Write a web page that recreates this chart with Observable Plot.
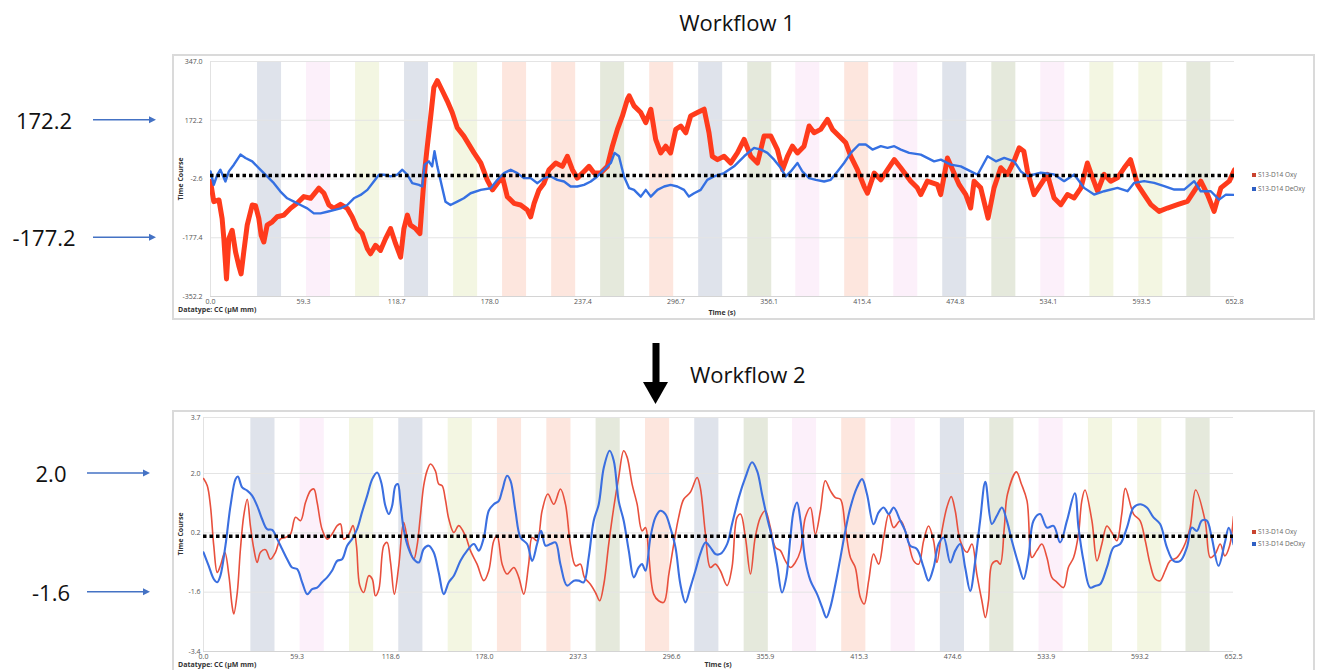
<!DOCTYPE html>
<html><head><meta charset="utf-8">
<script src="https://cdn.jsdelivr.net/npm/d3@7"></script>
<script src="https://cdn.jsdelivr.net/npm/@observablehq/plot@0.6"></script>
<style>
html,body{margin:0;padding:0;background:#fff;}
body{width:1320px;height:670px;position:relative;overflow:hidden;font-family:"Open Sans",sans-serif;}
.box{position:absolute;border:2px solid #dadada;box-sizing:border-box;}
.big{position:absolute;font-size:22px;color:#111;white-space:nowrap;line-height:1;}
.small{position:absolute;font-size:7px;color:#333;font-weight:bold;white-space:nowrap;line-height:1;}
.leg{position:absolute;font-size:6.5px;color:#666;white-space:nowrap;line-height:1;}
.sw{position:absolute;width:4px;height:4px;}
</style></head><body>
<script>
// ---------- data ----------
const seriesNames = ["S13-D14 Oxy", "S13-D14 DeOxy"];
const titles = ["Workflow 1", "Workflow 2"];
const datatypeLabel = "Datatype: CC (µM mm)";
const xLabel = "Time (s)";
const yLabel = "Time Course";

const xTicks1 = [0.0, 59.3, 118.7, 178.0, 237.4, 296.7, 356.1, 415.4, 474.8, 534.1, 593.5, 652.8];
const yTicks1 = [347.0, 172.2, -2.6, -177.4, -352.2];
const xTicks2 = [0.0, 59.3, 118.6, 178.0, 237.3, 296.6, 355.9, 415.3, 474.6, 533.9, 593.2, 652.5];
const yTicks2 = [3.7, 2.0, 0.2, -1.6, -3.4];
const baseline1 = 8;
const baseline2 = 0.1;
const annot1 = ["172.2", "-177.2"];
const annot2 = ["2.0", "-1.6"];

// stimulus blocks (s) and their condition
const bandStart = [30.0, 61.2, 92.5, 123.7, 155.0, 186.2, 217.5, 248.7, 280.0, 311.2, 342.5, 373.1, 404.3, 435.6, 466.8, 498.1, 529.3, 560.6, 591.8, 622.4];
const bandEnd   = [45.3, 76.5, 107.8, 139.0, 170.3, 201.5, 232.8, 264.0, 295.3, 326.5, 357.8, 388.4, 419.6, 450.9, 482.1, 513.4, 544.6, 575.9, 607.1, 637.7];
const bandCond  = ["A","B","C","A","C","D","D","E","D","A","E","B","D","B","A","E","B","C","C","E"];

// Workflow 1 (t, value)
const oxy1 = [[0,-10],[2.1,-70],[5.4,-65],[7.4,-120],[8.5,-180],[10.2,-300],[11.7,-180],[13.8,-155],[16.0,-220],[18.0,-260],[19.5,-285],[21.2,-220],[23.4,-140],[26.6,-80],[28.7,-82],[30.8,-120],[32.3,-170],[34.0,-190],[36.1,-140],[39.4,-130],[42.5,-115],[46.8,-110],[51.0,-90],[55.2,-75],[59.5,-55],[63.8,-60],[69.1,-30],[72.3,-45],[75.5,-80],[78.6,-90],[82.9,-78],[87.2,-90],[90.3,-115],[93.5,-150],[96.7,-165],[100.0,-210],[102.0,-225],[105.2,-200],[108.4,-215],[111.6,-180],[114.8,-150],[118.0,-195],[121.2,-235],[123.3,-150],[125.5,-110],[127.5,-140],[130.7,-150],[133.5,-165],[135.0,-70],[136.5,20],[138.1,90],[140.3,180],[142.4,270],[144.6,290],[147.8,260],[150.9,230],[154.1,195],[157.3,150],[161.5,125],[168.0,75],[172.3,45],[176.4,-5],[179.7,-35],[182.9,-15],[186.0,5],[189.2,-55],[193.5,-75],[197.7,-80],[202.0,-95],[204.1,-115],[206.3,-75],[209.4,-35],[212.6,-15],[215.8,25],[220.1,45],[224.3,35],[227.5,65],[230.7,25],[233.8,0],[238.1,20],[241.3,35],[244.5,15],[248.7,15],[253.0,35],[256.2,95],[259.4,145],[262.6,185],[265.8,235],[266.9,245],[270.0,215],[274.3,195],[277.5,165],[280.7,205],[283.8,115],[287.0,75],[290.2,95],[293.3,75],[296.6,145],[299.8,155],[303.0,135],[306.1,185],[310.4,195],[314.7,205],[317.8,135],[319.9,65],[323.2,55],[327.4,65],[331.6,45],[335.9,75],[340.2,115],[344.4,65],[348.7,45],[352.9,125],[357.2,125],[361.4,85],[364.7,25],[367.8,65],[371.0,95],[374.2,75],[378.4,95],[381.6,155],[384.8,135],[389.0,145],[393.3,175],[396.5,145],[400.7,125],[405.0,105],[408.2,65],[412.4,25],[416.7,-25],[418.8,-45],[423.1,15],[427.3,-5],[431.6,25],[435.9,55],[440.0,31],[446.4,-9],[450.6,-29],[452.8,-49],[457.0,-9],[463.4,-19],[465.5,-49],[469.8,60],[477.2,-19],[481.5,-49],[484.6,-89],[486.8,-9],[491.0,-29],[495.7,-119],[499.5,-29],[503.8,31],[508.0,11],[512.3,51],[515.5,90],[518.5,80],[520.8,21],[525.0,-49],[529.3,-19],[533.5,11],[537.8,-59],[542.1,-79],[546.3,-49],[550.6,-59],[554.9,-29],[559.0,45],[562.3,1],[565.5,-39],[569.7,11],[573.9,-9],[578.2,1],[582.4,30],[586.5,55],[591.0,-19],[595.2,-49],[599.5,-79],[604.7,-99],[610.1,-89],[616.4,-79],[622.8,-69],[627.1,-39],[631.3,-9],[635.6,-49],[639.8,-99],[644.1,-29],[649.5,-9],[652.8,25]];
const deoxy1 = [[0,20],[2.1,-20],[4.3,10],[6.3,25],[9.5,-10],[11.7,20],[14.9,40],[19.1,70],[22.3,60],[26.6,50],[30.8,30],[36.1,5],[40.4,-15],[44.6,-40],[48.9,-60],[53.2,-70],[57.4,-80],[61.7,-90],[65.9,-105],[70.1,-105],[74.4,-100],[78.6,-95],[82.9,-90],[87.2,-80],[91.4,-60],[95.7,-50],[100.0,-35],[104.1,-10],[107.4,10],[110.6,10],[114.8,5],[119.0,10],[122.3,25],[125.5,10],[128.6,-15],[132.9,-20],[135.0,-25],[136.5,40],[139.2,50],[141.3,35],[142.8,80],[144.6,35],[147.8,-30],[149.8,-70],[153.0,-80],[157.3,-70],[161.5,-60],[165.8,-45],[172.3,-35],[178.6,-30],[182.9,-5],[187.1,15],[191.4,25],[195.6,15],[199.8,0],[204.1,0],[208.4,-15],[212.6,0],[216.9,5],[221.1,-5],[225.4,-10],[229.6,-25],[233.8,-25],[238.1,-20],[242.4,-10],[246.6,5],[250.9,25],[255.2,45],[257.6,75],[260.4,65],[263.6,5],[266.9,-30],[270.0,-35],[274.3,-55],[277.5,-35],[280.7,-55],[284.9,-35],[289.2,-25],[293.3,-20],[297.6,-25],[301.9,-35],[305.0,-55],[308.3,-45],[312.5,-35],[316.7,-5],[321.0,5],[327.4,15],[333.8,35],[340.2,65],[346.5,90],[350.8,85],[355.0,75],[359.3,55],[363.6,30],[366.7,5],[369.9,20],[374.2,45],[377.3,20],[381.6,0],[385.9,-5],[391.2,-10],[395.4,-5],[399.7,20],[403.9,45],[408.2,75],[413.4,100],[417.7,100],[422.0,85],[427.3,95],[431.6,90],[435.9,95],[440.1,85],[445.4,75],[452.8,70],[461.3,50],[465.6,55],[471.9,40],[478.3,35],[484.7,20],[489.0,10],[495.4,65],[500.7,50],[506.0,60],[512.3,50],[516.6,20],[520.8,6],[529.3,16],[537.8,11],[544.2,-9],[550.6,11],[556.9,-29],[563.3,-49],[569.7,-39],[578.2,-29],[584.6,-39],[588.9,-14],[595.2,-9],[601.6,-14],[608.0,-24],[614.4,-34],[620.7,-34],[627.1,-9],[631.3,-39],[637.7,-39],[643.0,-64],[647.3,-49],[652.8,-50]];

// Workflow 2 (t, value)
const oxy2 = [[0,1.85],[2.4,1.63],[4.4,1.02],[6.5,-0.19],[8.7,-1.0],[10.7,-0.8],[13.5,-0.39],[16.1,-1.1],[18.1,-2.01],[19.2,-2.26],[21.4,-1.61],[23.4,-0.29],[25.5,0.72],[27.7,1.22],[29.7,0.42],[31.9,-0.29],[34.0,-0.7],[36.1,-0.39],[39.3,-0.31],[42.4,-0.6],[45.6,-0.39],[48.7,0.01],[51.9,0.06],[55.1,0.16],[58.3,0.67],[61.5,0.57],[64.6,1.12],[67.8,1.48],[69.9,1.53],[72.0,1.12],[75.1,0.31],[78.3,0.01],[81.4,0.16],[84.7,0.42],[86.8,0.47],[88.8,0.01],[92.1,0.16],[94.7,0.42],[96.9,-0.19],[99.0,-1.4],[101.5,-1.61],[104.7,-1.1],[106.9,-1.2],[108.9,-1.71],[111.1,-1.51],[114.2,-0.19],[116.3,-0.09],[118.5,-0.7],[120.9,-1.66],[123.7,-0.8],[126.8,0.52],[130.0,-0.19],[133.2,-0.6],[135.3,-0.19],[137.4,0.72],[139.5,1.63],[141.6,2.08],[143.8,2.29],[146.9,2.08],[149.0,1.68],[151.2,1.63],[153.2,1.22],[155.4,0.62],[158.6,0.21],[161.7,0.42],[166.0,0.1],[169.1,-0.34],[173.3,-0.75],[177.6,-1.25],[180.7,-0.95],[183.9,-0.04],[186.0,0.11],[189.2,-0.75],[192.3,-1.05],[196.6,-0.85],[199.7,-1.15],[202.9,-1.66],[206.0,-0.75],[208.2,0.06],[211.3,-0.04],[214.5,0.87],[218.1,1.38],[221.9,1.07],[226.1,1.53],[229.3,1.07],[232.4,-0.14],[235.7,-0.8],[238.8,-0.75],[241.3,-1.15],[245.1,-1.36],[248.3,-1.61],[251.0,-1.86],[253.6,-1.36],[256.7,-0.14],[259.9,0.97],[263.0,1.88],[266.2,2.69],[268.4,2.49],[271.5,1.68],[274.7,1.07],[277.8,0.26],[280.0,0.36],[282.0,-0.44],[285.2,-1.66],[288.3,-1.86],[291.6,-1.91],[294.8,-1.05],[297.9,-0.14],[301.0,0.67],[304.2,1.22],[308.4,1.43],[312.7,1.88],[314.7,1.58],[318.0,0.16],[321.1,-0.85],[324.3,-0.75],[327.4,-0.95],[331.7,-1.4],[334.8,-0.85],[338.0,0.67],[340.2,0.77],[343.3,0.06],[346.5,-1.05],[349.5,0.06],[352.8,0.67],[355.9,0.87],[359.1,0.36],[362.3,-0.24],[365.5,-0.34],[368.6,-0.65],[371.8,-0.85],[374.9,-0.7],[378.2,-0.34],[381.3,0.67],[384.5,0.97],[387.6,0.16],[390.8,0.87],[393.9,1.78],[397.1,1.48],[400.3,1.27],[403.5,1.22],[406.6,0.36],[409.8,-0.55],[412.9,-0.85],[416.1,-1.76],[418.6,-1.96],[421.4,-1.25],[424.5,-0.44],[427.7,-0.75],[430.9,0.06],[434.1,0.77],[437.2,0.36],[441.5,0.57],[445.6,0.1],[449.9,-0.65],[453.0,-0.75],[456.2,-0.04],[459.3,0.41],[462.5,-0.04],[464.6,-0.7],[467.8,0.26],[470.9,0.97],[473.7,1.3],[476.2,0.87],[479.4,-0.04],[483.6,-0.39],[486.8,-0.14],[489.9,-1.05],[493.1,-1.86],[495.3,-2.37],[497.3,-1.86],[499.5,-0.75],[502.6,-0.65],[504.7,-0.75],[507.3,0.36],[509.3,1.37],[515.0,2.05],[518.0,1.7],[521.7,1.17],[524.8,-0.55],[527.9,-0.34],[531.1,-0.14],[534.3,-0.55],[537.4,-1.15],[540.7,-1.3],[544.8,-1.46],[547.9,-0.85],[551.2,-0.55],[554.3,0.16],[556.4,1.17],[558.4,1.5],[562.8,0.57],[566.0,-0.65],[569.1,-0.14],[572.3,0.41],[575.4,0.21],[578.6,-0.04],[581.7,0.77],[584.0,1.55],[589.2,0.77],[593.3,0.57],[596.6,-0.04],[599.7,-0.75],[602.9,-1.2],[606.0,-1.25],[609.2,-0.95],[612.3,-0.65],[616.6,-0.55],[620.8,-0.24],[625.0,0.36],[628.5,1.5],[634.5,0.57],[637.8,-0.55],[640.9,-0.44],[644.1,-0.14],[647.0,-0.5],[650.0,-0.2],[652.5,0.7]];
const deoxy2 = [[0,-0.39],[3.3,-0.8],[6.5,-1.2],[8.7,-1.3],[10.7,-1.1],[13.9,-0.19],[17.1,1.02],[20.3,1.83],[21.8,1.91],[24.5,1.58],[27.7,1.48],[30.8,1.33],[34.0,1.02],[37.1,0.62],[40.3,0.31],[43.5,0.29],[46.7,0.01],[49.8,-0.29],[53.0,-0.6],[56.1,-0.85],[59.3,-0.9],[62.5,-1.3],[65.7,-1.66],[68.8,-1.51],[72.0,-1.46],[75.1,-1.3],[78.3,-1.15],[81.4,-0.95],[84.7,-0.65],[87.8,-0.6],[91.0,-0.19],[94.1,0.01],[97.3,0.31],[100.4,0.82],[103.7,1.33],[106.9,1.83],[110.0,2.03],[112.6,1.73],[115.2,1.02],[117.4,0.77],[119.5,1.02],[121.6,1.63],[123.1,1.68],[124.8,1.12],[126.8,0.31],[130.0,-0.29],[133.2,-0.6],[136.4,-0.7],[139.5,-0.29],[142.7,-0.19],[145.8,-0.39],[149.0,-1.0],[152.2,-1.66],[155.4,-1.3],[158.6,-1.1],[162.8,-0.65],[167.0,-0.34],[171.3,-0.14],[174.4,-0.34],[177.6,0.06],[180.7,0.87],[183.9,1.07],[187.1,1.17],[189.2,1.48],[192.3,1.93],[194.5,1.78],[197.6,0.87],[200.8,0.06],[205.0,-0.14],[208.2,-0.65],[211.3,-0.14],[213.9,0.26],[216.7,-0.19],[219.8,-0.14],[223.0,-0.09],[226.1,-0.75],[230.3,-1.4],[234.6,-1.25],[237.7,-1.25],[240.9,-1.3],[244.0,-0.55],[247.2,0.57],[250.4,1.07],[253.6,2.18],[257.3,2.69],[259.9,2.39],[263.0,1.17],[266.2,0.57],[269.4,-0.34],[272.6,-1.15],[275.7,-0.85],[277.8,-0.75],[280.0,-0.95],[283.1,0.06],[286.3,0.67],[289.4,0.87],[292.6,0.77],[295.7,0.36],[299.0,-0.24],[302.1,-1.36],[305.3,-1.91],[308.4,-1.46],[311.6,-0.95],[314.7,-0.44],[318.0,-0.09],[321.1,-0.24],[324.3,-0.44],[327.4,-0.44],[331.7,-0.14],[334.8,0.46],[339.1,1.27],[343.3,1.88],[347.5,2.34],[350.7,2.08],[353.8,1.38],[357.0,0.67],[360.1,0.06],[363.3,-0.75],[366.5,-1.61],[369.2,-1.15],[371.8,0.06],[373.9,0.87],[376.0,1.12],[378.2,0.57],[381.3,-0.65],[384.5,-1.25],[388.7,-1.66],[391.9,-2.06],[394.6,-2.37],[397.1,-2.06],[400.3,-1.36],[403.5,-0.55],[406.6,0.26],[409.8,0.97],[414.0,1.58],[417.2,1.83],[420.3,1.38],[424.5,0.46],[427.7,0.82],[430.9,0.97],[434.1,0.77],[437.2,0.97],[441.4,0.57],[444.5,0.26],[447.7,-0.19],[451.9,-0.29],[456.2,-0.85],[459.3,-1.25],[462.5,-0.85],[465.7,-0.14],[468.9,0.06],[473.1,-0.7],[476.2,-0.34],[479.4,-0.14],[482.5,-0.85],[485.7,-1.56],[488.9,-0.65],[492.0,0.57],[495.3,1.75],[499.4,0.47],[502.6,0.72],[505.8,0.97],[508.9,0.57],[512.1,-0.04],[516.3,-0.75],[519.5,-1.2],[522.6,-0.55],[525.8,0.57],[530.0,0.77],[534.3,0.36],[538.5,0.41],[542.7,-0.09],[547.0,0.57],[552.0,1.4],[554.3,0.36],[557.5,-0.65],[561.7,-1.46],[564.9,-1.41],[568.0,-1.36],[572.3,-0.85],[576.5,-0.24],[580.7,-0.14],[585.0,0.36],[589.2,0.97],[593.4,1.07],[597.6,0.97],[601.8,0.67],[606.0,0.47],[610.3,-0.24],[614.5,-0.65],[618.8,-0.65],[623.0,-0.24],[626.1,0.36],[629.3,0.26],[632.4,0.57],[635.6,0.57],[638.7,0.06],[643.0,-0.8],[647.0,-0.1],[649.5,0.35],[652.5,-0.15]];

// ---------- styles ----------
const condColor = {A: "#dfe3eb", B: "#fcf0fa", C: "#f3f6e2", D: "#fde6de", E: "#e5e9dc"};
const fontStack = '"Open Sans", "Noto Sans", sans-serif';

function addDiv(cls, text, css) {
  const d = document.createElement("div");
  d.className = cls;
  if (text != null) d.textContent = text;
  Object.assign(d.style, css);
  document.body.appendChild(d);
  return d;
}

function makePanel(cfg) {
  const bands = bandStart.map((s, i) => ({s, e: bandEnd[i], c: condColor[bandCond[i]]}));
  const toRows = arr => arr.map(([t, v]) => ({t, v}));
  return Plot.plot({
    width: cfg.width, height: cfg.height,
    marginLeft: cfg.ml, marginRight: cfg.mr, marginTop: cfg.mt, marginBottom: cfg.mb,
    style: {fontFamily: fontStack, fontSize: "7px", color: "#555", background: "transparent", overflow: "visible"},
    x: {domain: [0, cfg.xTicks[cfg.xTicks.length - 1]]},
    y: {domain: [cfg.yTicks[cfg.yTicks.length - 1], cfg.yTicks[0]]},
    color: {type: "identity"},
    marks: [
      Plot.rect(bands, {x1: "s", x2: "e", fill: "c"}),
      Plot.gridY(cfg.yTicks, {stroke: "#e4e4e4", strokeOpacity: 1}),
      Plot.ruleY([cfg.yTicks[cfg.yTicks.length - 1]], {stroke: "#d4d4d4"}),
      Plot.ruleX([0], {stroke: "#e2e2e2"}),
      Plot.axisY(cfg.yTicks, {tickSize: 0, tickPadding: cfg.yPad, tickFormat: d => d.toFixed(1), label: null}),
      Plot.axisX(cfg.xTicks, {tickSize: 0, tickPadding: 3, tickFormat: d => d.toFixed(1), label: null}),
      Plot.line(toRows(cfg.oxy), {x: "t", y: "v", stroke: cfg.red, strokeWidth: cfg.redW, curve: cfg.curve, strokeLinejoin: "round", clip: true}),
      Plot.line(toRows(cfg.deoxy), {x: "t", y: "v", stroke: cfg.blue, strokeWidth: cfg.blueW, curve: cfg.curve, strokeLinejoin: "round", clip: true}),
      Plot.ruleY([cfg.base], {stroke: "#000", strokeWidth: 3.5, strokeDasharray: "3.5,3"})
    ]
  });
}

function placePanel(cfg) {
  addDiv("box", null, {left: cfg.left + "px", top: cfg.top + "px", width: "1143px", height: cfg.boxH + "px"});
  const chart = makePanel(cfg);
  chart.style.position = "absolute";
  chart.style.left = cfg.left + "px";
  chart.style.top = cfg.top + "px";
  document.body.appendChild(chart);
  const ys = chart.scale("y");
  const xs = chart.scale("x");
  const plotTop = cfg.top + cfg.mt, plotBottom = cfg.top + cfg.height - cfg.mb;
  addDiv("small", yLabel, {left: (cfg.left + 8) + "px", top: ((plotTop + plotBottom) / 2) + "px", transform: "translate(-50%,-50%) rotate(-90deg)"});
  addDiv("small", datatypeLabel, {left: (cfg.left + 6) + "px", top: (plotBottom + 10) + "px"});
  addDiv("small", xLabel, {left: (cfg.left + xs.apply((xs.domain[0] + xs.domain[1]) / 2)) + "px", top: (plotBottom + cfg.xLabelDy) + "px", transform: "translateX(-50%)"});
  const lx = cfg.left + 1080;
  seriesNames.forEach((name, i) => {
    const ly = cfg.legendY + i * cfg.legendGap;
    addDiv("sw", null, {left: lx + "px", top: (ly - 2) + "px", background: i === 0 ? "#c9432f" : "#2f5fc4"});
    addDiv("leg", name, {left: (lx + 6) + "px", top: (ly - 3.5) + "px"});
  });
  return {ys, top: cfg.top};
}

const p1 = placePanel({left: 172, top: 54, boxH: 266, width: 1143, height: 266, ml: 38, mr: 81, mt: 7, mb: 24,
  xTicks: xTicks1, yTicks: yTicks1, base: baseline1, oxy: oxy1, deoxy: deoxy1, yPad: 8,
  red: "#ff3b1c", redW: 5, blue: "#3570e2", blueW: 2.4, curve: "linear", legendY: 175, legendGap: 14, xLabelDy: 13});
const p2 = placePanel({left: 172, top: 410, boxH: 280, width: 1143, height: 275, ml: 31, mr: 82, mt: 7, mb: 34,
  xTicks: xTicks2, yTicks: yTicks2, base: baseline2, oxy: oxy2, deoxy: deoxy2, yPad: 3,
  red: "#e8503d", redW: 1.6, blue: "#3b6fe0", blueW: 2.1, curve: "catmull-rom", legendY: 532, legendGap: 12, xLabelDy: 10});

// ---------- annotations ----------
addDiv("big", titles[0], {left: "737px", top: "22px", transform: "translate(-50%,-50%)"});
addDiv("big", titles[1], {left: "690px", top: "374px", transform: "translateY(-50%)"});

const ns = "http://www.w3.org/2000/svg";
const ov = document.createElementNS(ns, "svg");
ov.setAttribute("width", 1320); ov.setAttribute("height", 670);
Object.assign(ov.style, {position: "absolute", left: "0px", top: "0px", pointerEvents: "none"});
document.body.appendChild(ov);
function svgEl(tag, attrs) {
  const e = document.createElementNS(ns, tag);
  for (const k in attrs) e.setAttribute(k, attrs[k]);
  ov.appendChild(e);
  return e;
}
function sideArrow(label, y, cx, x0, x1) {
  addDiv("big", label, {left: cx + "px", top: y + "px", transform: "translate(-50%,-50%)"});
  svgEl("line", {x1: x0, y1: y, x2: x1 - 6, y2: y, stroke: "#4472c4", "stroke-width": 1.6});
  svgEl("polygon", {points: `${x1 - 7},${y - 3.5} ${x1},${y} ${x1 - 7},${y + 3.5}`, fill: "#4472c4"});
}
annot1.forEach(l => sideArrow(l, p1.top + p1.ys.apply(+l), 44, 93, 156));
annot2.forEach(l => sideArrow(l, p2.top + p2.ys.apply(+l), 51, 87, 150));
svgEl("rect", {x: 652.5, y: 343, width: 7, height: 40, fill: "#000"});
svgEl("polygon", {points: "643,382 668,382 655.5,404", fill: "#000"});
</script>
</body></html>
